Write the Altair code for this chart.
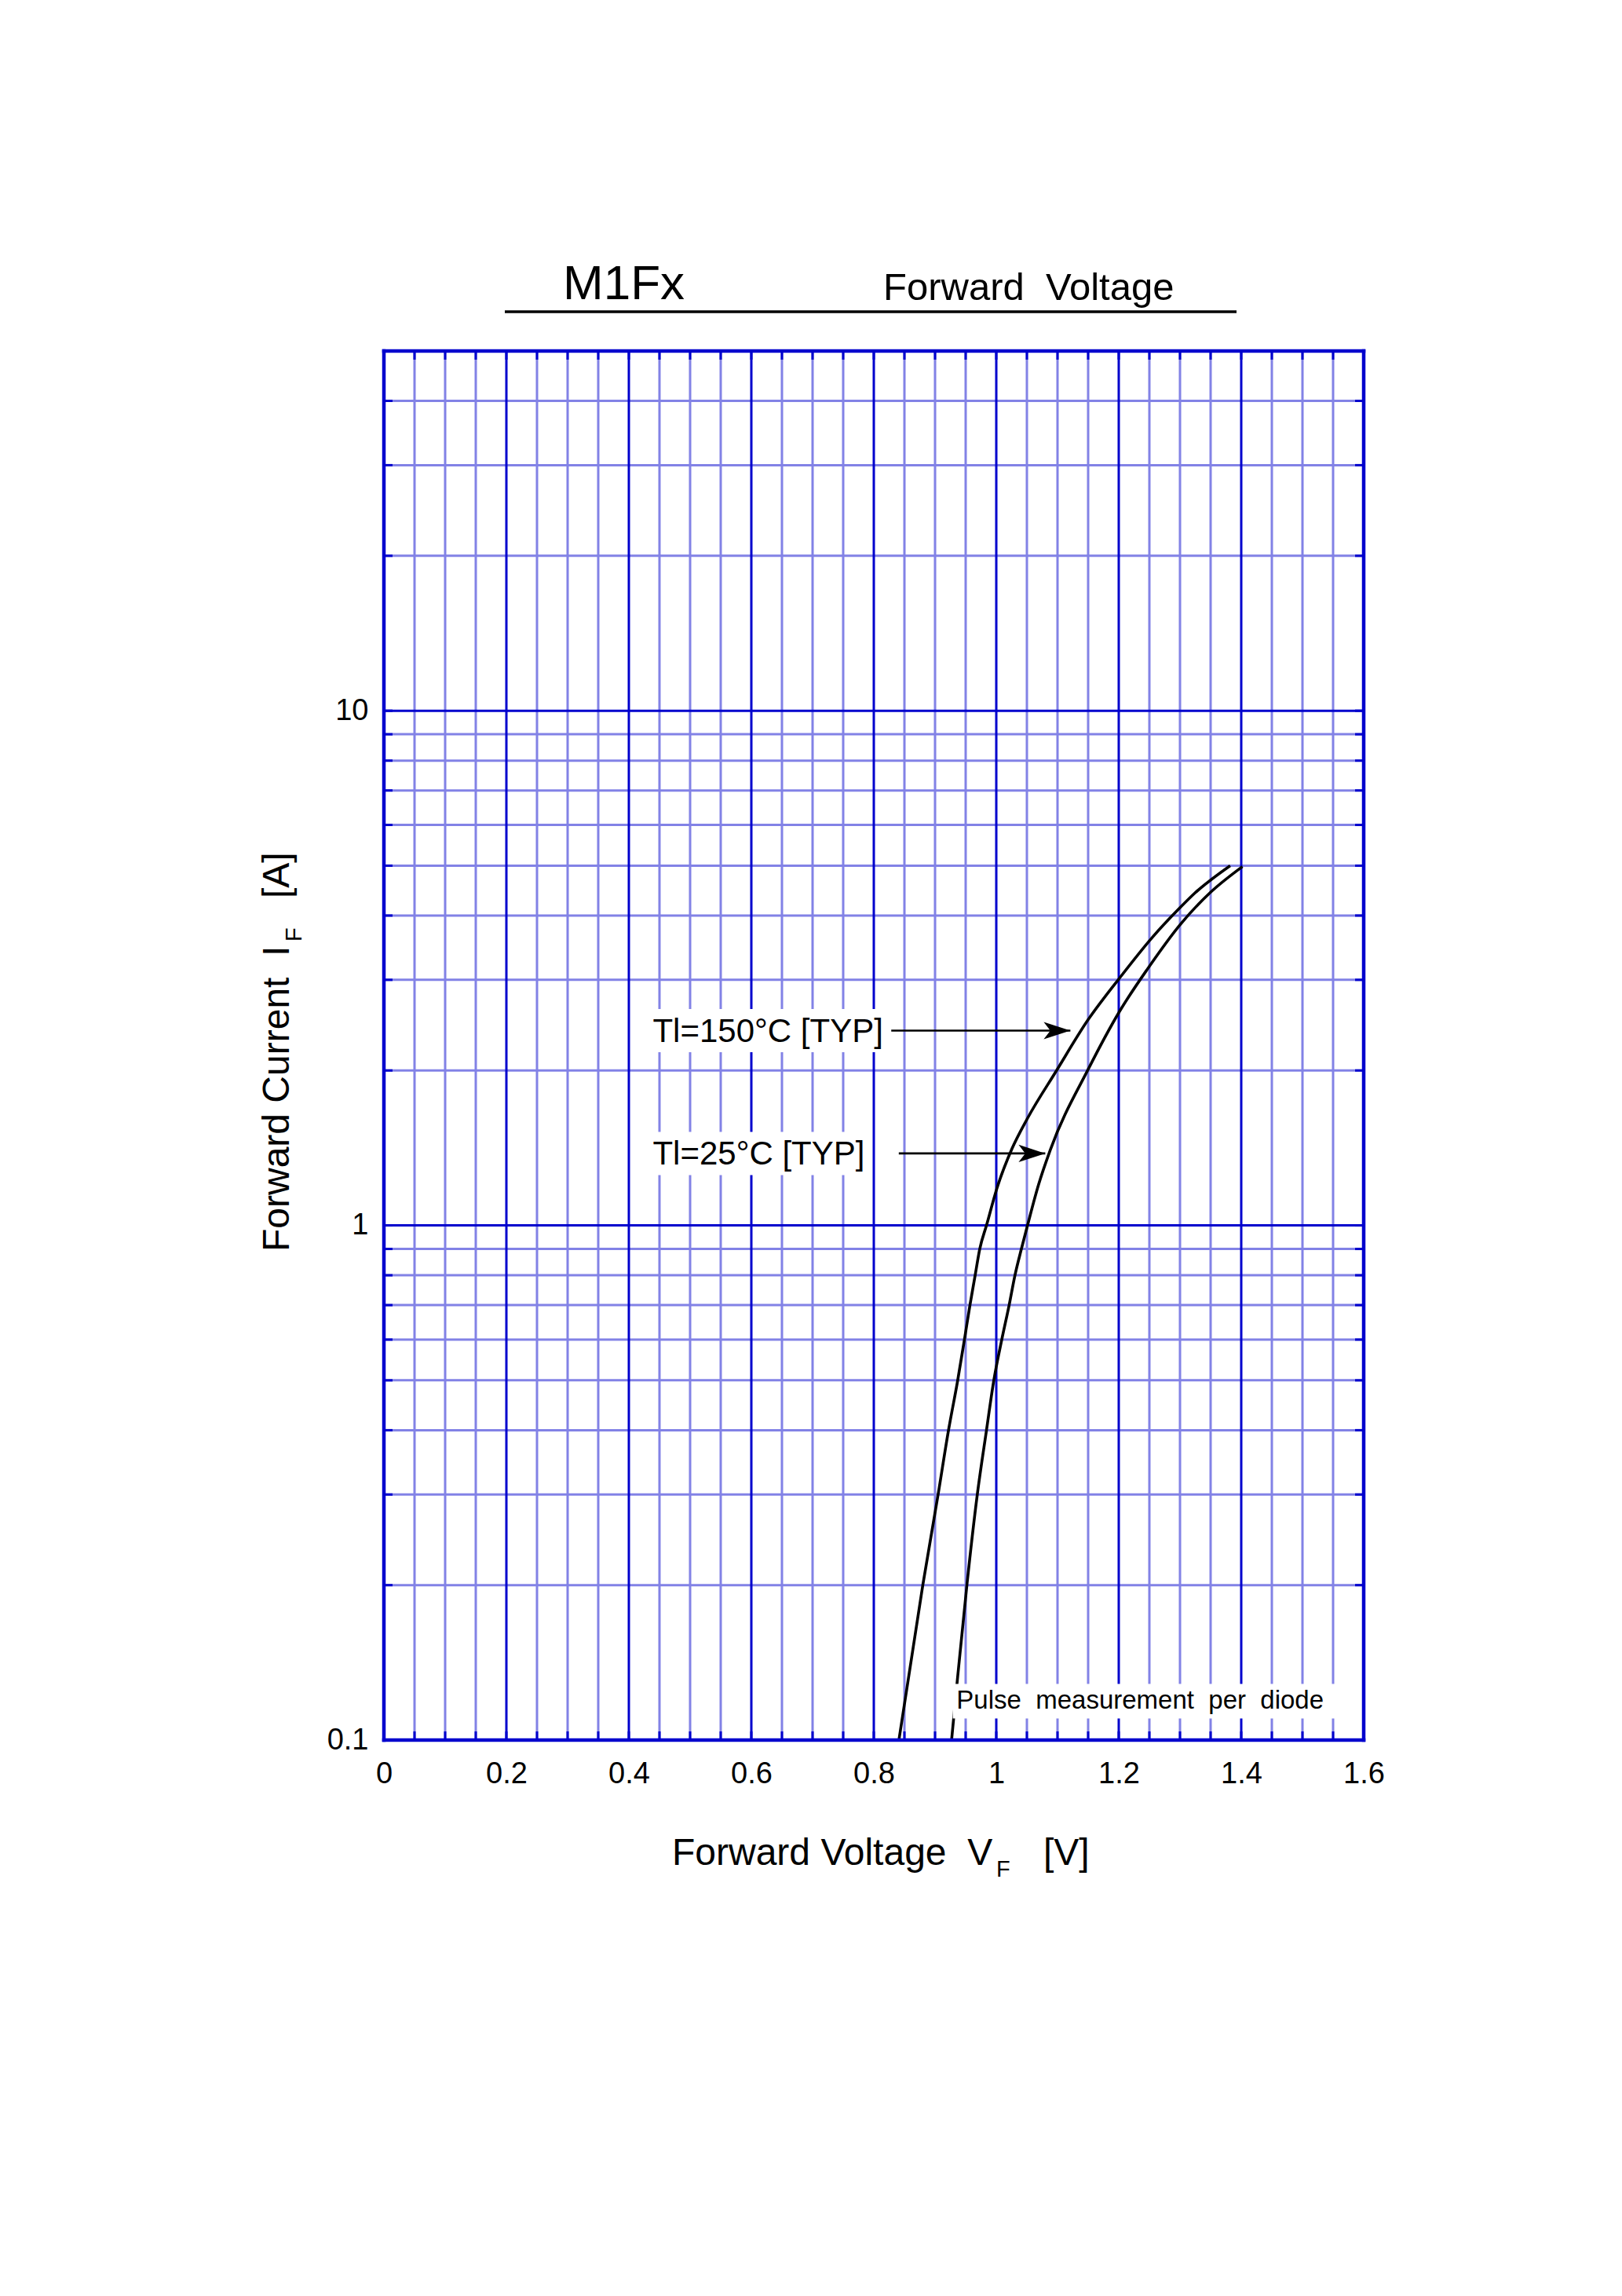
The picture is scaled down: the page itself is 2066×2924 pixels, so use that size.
import altair as alt
import pandas as pd

# ---------------- data ----------------
v_150 = [0.841, 0.880, 0.905, 0.922, 0.937, 0.948, 0.957, 0.9655, 0.973, 0.984,
         1.001, 1.0257, 1.0504, 1.0985, 1.150, 1.200, 1.255, 1.298, 1.324, 1.382]
i_150 = [0.10, 0.20, 0.30, 0.40, 0.50, 0.60, 0.70, 0.80, 0.90, 1.00,
         1.18, 1.41, 1.61, 2.00, 2.51, 3.01, 3.63, 4.12, 4.42, 5.00]

v_25 = [0.927, 0.937, 0.952, 0.969, 0.984, 0.996, 1.009, 1.021, 1.0305, 1.041,
        1.051, 1.069, 1.088, 1.151, 1.2017, 1.247, 1.301, 1.350, 1.402]
i_25 = [0.10, 0.133, 0.20, 0.30, 0.40, 0.50, 0.60, 0.70, 0.80, 0.90,
        1.00, 1.20, 1.40, 2.02, 2.61, 3.15, 3.85, 4.44, 4.98]

x_tick_labels = [0, 0.2, 0.4, 0.6, 0.8, 1.0, 1.2, 1.4, 1.6]
y_tick_labels = [0.1, 1, 10]
x_major = [0.2, 0.4, 0.6, 0.8, 1.0, 1.2, 1.4]
x_minor = [0.05, 0.1, 0.15, 0.25, 0.3, 0.35, 0.45, 0.5, 0.55, 0.65, 0.7, 0.75,
           0.85, 0.9, 0.95, 1.05, 1.1, 1.15, 1.25, 1.3, 1.35, 1.45, 1.5, 1.55]
y_major = [1, 10]
y_minor = [0.2, 0.3, 0.4, 0.5, 0.6, 0.7, 0.8, 0.9,
           2, 3, 4, 5, 6, 7, 8, 9, 20, 30, 40]

ann_labels = ["Tl=150°C [TYP]", "Tl=25°C [TYP]"]
ann_label_v = [0.439, 0.439]
ann_i = [2.39, 1.38]
ann_arrow_start = [0.8285, 0.8408]
ann_arrow_tip = [1.121, 1.080]
ann_box_left = [0.425, 0.425]
ann_box_right = [0.823, 0.791]

NB2 = "\u00a0\u00a0"  # two non-collapsing spaces
note_text = ["Pulse" + NB2 + "measurement" + NB2 + "per" + NB2 + "diode"]
note_v = [0.935]
note_i = [0.119]
note_box_left = [0.929]
note_box_right = [1.565]

# ---------------- styling ----------------
W, H = 1248, 1769
DARK = "#0000CD"
LIGHT = "#8282E6"
FONT = "Liberation Sans"

xscale = alt.Scale(domain=[0, 1.6], nice=False, zero=False)
yscale = alt.Scale(type="log", domain=[0.1, 50], nice=False)
xaxis = alt.Axis(values=x_tick_labels, format="~g", title=None, ticks=False, tickSize=0,
                 domain=False, grid=False, labelFontSize=38, labelFont=FONT,
                 labelColor="black", labelPadding=24, labelFlush=False)
yaxis = alt.Axis(values=y_tick_labels, format="~g", title=None, ticks=False, tickSize=0,
                 domain=False, grid=False, labelFontSize=38, labelFont=FONT,
                 labelColor="black", labelPadding=20, labelFlush=False)


def X(f):
    return alt.X(f, type="quantitative", scale=xscale, axis=xaxis)


def Y(f):
    return alt.Y(f, type="quantitative", scale=yscale, axis=yaxis)


one = pd.DataFrame({"k": [0]})
xmin = pd.DataFrame({"v": x_minor})
xmaj = pd.DataFrame({"v": x_major})
ymin = pd.DataFrame({"i": y_minor})
ymaj = pd.DataFrame({"i": y_major})
xall = pd.DataFrame({"v": x_minor + x_major})
yall = pd.DataFrame({"i": y_minor + y_major})

layers = []
# grid
layers.append(alt.Chart(xmin).mark_rule(color=LIGHT, strokeWidth=3).encode(
    x=X("v"), y=alt.value(0), y2=alt.value(H)))
layers.append(alt.Chart(ymin).mark_rule(color=LIGHT, strokeWidth=3).encode(
    y=Y("i"), x=alt.value(0), x2=alt.value(W)))
layers.append(alt.Chart(xmaj).mark_rule(color=DARK, strokeWidth=3).encode(
    x=X("v"), y=alt.value(0), y2=alt.value(H)))
layers.append(alt.Chart(ymaj).mark_rule(color=DARK, strokeWidth=3).encode(
    y=Y("i"), x=alt.value(0), x2=alt.value(W)))
# inward ticks on all four sides
layers.append(alt.Chart(xall).mark_rule(color=DARK, strokeWidth=3).encode(
    x=X("v"), y=alt.value(H - 11), y2=alt.value(H)))
layers.append(alt.Chart(xall).mark_rule(color=DARK, strokeWidth=3).encode(
    x=X("v"), y=alt.value(0), y2=alt.value(11)))
layers.append(alt.Chart(yall).mark_rule(color=DARK, strokeWidth=3).encode(
    y=Y("i"), x=alt.value(0), x2=alt.value(11)))
layers.append(alt.Chart(yall).mark_rule(color=DARK, strokeWidth=3).encode(
    y=Y("i"), x=alt.value(W - 11), x2=alt.value(W)))

# curves
c150 = pd.DataFrame({"v": v_150, "i": i_150})
c25 = pd.DataFrame({"v": v_25, "i": i_25})
for df in (c150, c25):
    layers.append(alt.Chart(df).mark_line(color="black", strokeWidth=3.6,
                                          interpolate="monotone").encode(
        x=X("v"), y=Y("i"), order="v:Q"))

# white label boxes
ann = pd.DataFrame({"label": ann_labels, "lv": ann_label_v, "i": ann_i,
                    "a0": ann_arrow_start, "a1": ann_arrow_tip,
                    "bl": ann_box_left, "br": ann_box_right})
note = pd.DataFrame({"t": note_text, "v": note_v, "i": note_i,
                     "bl": note_box_left, "br": note_box_right})
layers.append(alt.Chart(ann).mark_rule(color="white", strokeWidth=55, strokeCap="butt").encode(
    x=X("bl"), x2="br:Q", y=Y("i")))
layers.append(alt.Chart(note).mark_rule(color="white", strokeWidth=44, strokeCap="butt").encode(
    x=X("bl"), x2="br:Q", y=Y("i")))

# annotation texts and arrows
layers.append(alt.Chart(ann).mark_text(align="left", baseline="alphabetic", dy=14,
                                       fontSize=42, font=FONT, color="black").encode(
    x=X("lv"), y=Y("i"), text="label:N"))
layers.append(alt.Chart(ann).mark_rule(color="black", strokeWidth=2.6).encode(
    x=X("a0"), x2="a1:Q", y=Y("i")))
layers.append(alt.Chart(ann).mark_point(
    shape="M 1 0 L -1 -0.65 L -0.5 0 L -1 0.65 Z", size=1156, filled=True,
    color="black", opacity=1, xOffset=-17).encode(x=X("a1"), y=Y("i")))
layers.append(alt.Chart(note).mark_text(align="left", baseline="alphabetic", dy=10,
                                        fontSize=33, font=FONT, color="black").encode(
    x=X("v"), y=Y("i"), text="t:N"))

# border
for enc in (dict(x=alt.value(0), y=alt.value(0), y2=alt.value(H)),
            dict(x=alt.value(W), y=alt.value(0), y2=alt.value(H)),
            dict(y=alt.value(0), x=alt.value(0), x2=alt.value(W)),
            dict(y=alt.value(H), x=alt.value(0), x2=alt.value(W))):
    layers.append(alt.Chart(one).mark_rule(color=DARK, strokeWidth=4.5,
                                           strokeCap="square").encode(**enc))


def txt(s, x, y, size, angle=None):
    kw = dict(align="left", baseline="alphabetic", fontSize=size, font=FONT, color="black")
    if angle is not None:
        kw["angle"] = angle
    return alt.Chart(one).mark_text(**kw).encode(
        x=alt.value(x), y=alt.value(y), text=alt.value(s))


# header
layers.append(txt("M1Fx", 228, -66, 62))
layers.append(txt("Forward" + NB2 + "Voltage", 636, -65, 49))
layers.append(alt.Chart(one).mark_rule(color="black", strokeWidth=3.5).encode(
    x=alt.value(154), x2=alt.value(1086), y=alt.value(-50)))

# axis titles
layers.append(txt("Forward Voltage" + NB2 + "V", 367, 1928, 48))
layers.append(txt("F", 780, 1943, 29))
layers.append(txt("[V]", 840, 1928, 48))
layers.append(txt("Forward Current" + NB2 + "I", -121, 1147, 48, angle=270))
layers.append(txt("F", -105, 752, 29, angle=270))
layers.append(txt("[A]", -121, 697, 48, angle=270))

chart = alt.layer(*layers).properties(
    width=W, height=H,
    padding={"left": 481, "top": 439, "right": 300, "bottom": 690},
    autosize=alt.AutoSizeParams(type="none"),
    background="white",
).configure_view(stroke=None)

chart.save("out.html", embed_options={"renderer": "svg", "actions": False})
